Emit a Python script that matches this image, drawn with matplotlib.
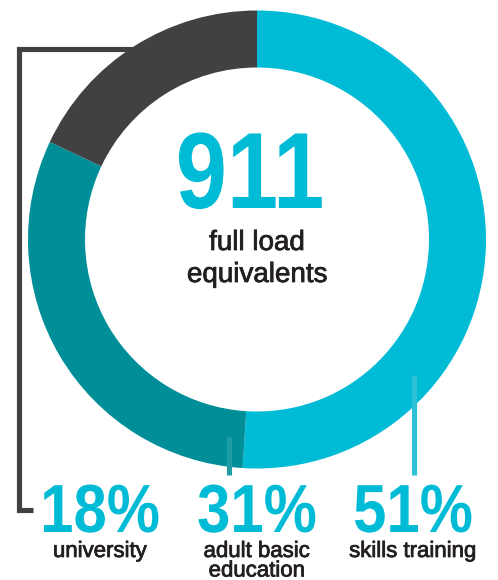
import matplotlib
matplotlib.use("Agg")
import matplotlib.pyplot as plt
from matplotlib import font_manager, patheffects
from matplotlib.transforms import Affine2D

# Enrolment split by program area (share of full load equivalents)
categories = ["skills training", "adult basic\neducation", "university"]
shares = [51, 31, 18]
total_fle = 911
center_caption = "full load\nequivalents"

CYAN = "#00BBD5"
TEAL = "#008F99"
GREY = "#414042"
INK = "#231F20"
slice_colors = [CYAN, TEAL, GREY]


def pick_family(*names):
    for name in names:
        try:
            font_manager.findfont(name, fallback_to_default=False)
            return name
        except Exception:
            continue
    return "DejaVu Sans"


BOLD_FAMILY = pick_family("Liberation Sans", "DejaVu Sans")
TEXT_FAMILY = pick_family("Liberation Sans", "DejaVu Sans")


class Condensed(patheffects.AbstractPathEffect):
    """Squeeze glyphs horizontally about the text's anchor point."""

    def __init__(self, ax, x_data, factor):
        super().__init__()
        self._ax = ax
        self._x = x_data
        self._k = factor

    def draw_path(self, renderer, gc, tpath, affine, rgbFace=None):
        x0 = self._ax.transData.transform((self._x, 0))[0]
        squeeze = Affine2D().translate(-x0, 0).scale(self._k, 1).translate(x0, 0)
        renderer.draw_path(gc, tpath, affine + squeeze, rgbFace)


# a hairline outline gives the regular captions a slightly heavier weight
caption_fx = [patheffects.withStroke(linewidth=0.55, foreground=INK)]

W, H = 498, 580
fig = plt.figure(figsize=(W / 100, H / 100), dpi=100)
ax = fig.add_axes([0, 0, 1, 1])


def Y(py):
    """Convert a top-down pixel row into the axes' y coordinate."""
    return H - py


cx, cy = 257, 239.5
outer_r, ring_w = 229, 57

ax.pie(shares, colors=slice_colors, startangle=90, counterclock=False,
       radius=outer_r, center=(cx, Y(cy)),
       wedgeprops=dict(width=ring_w, linewidth=0))
ax.set_xlim(0, W)
ax.set_ylim(0, H)
ax.set_aspect("equal")
ax.axis("off")

# Label columns below the ring
label_x = {"university": 100, "adult basic\neducation": 257, "skills training": 413}
pct_base = 532
name_base = 557
name_step = 19.5

for cat, val in zip(categories, shares):
    x = label_x[cat]
    ax.text(x, Y(pct_base), f"{val}%", ha="center", va="baseline",
            fontsize=49, fontweight="bold", color=CYAN, family=BOLD_FAMILY,
            path_effects=[Condensed(ax, x, 0.88)])
    for i, part in enumerate(cat.split("\n")):
        ax.text(x, Y(name_base + i * name_step), part, ha="center",
                va="baseline", fontsize=16, color=INK, family=TEXT_FAMILY,
                path_effects=caption_fx)

# Leader lines tying each label to its slice
lw = 3.7
ax.plot([140, 18.5, 18.5, 33], [Y(49), Y(49), Y(510), Y(510)],
        color=GREY, lw=lw, solid_joinstyle="miter", solid_capstyle="butt",
        zorder=0)
ax.plot([228.5, 228.5], [Y(437), Y(475)], color="#1f9ba4", lw=lw,
        solid_capstyle="butt", zorder=3)
ax.plot([414, 414], [Y(375), Y(475)], color="#2ec2d8", lw=lw,
        solid_capstyle="butt", zorder=3)

# Centre figure
ax.text(250, Y(208), f"{total_fle}", ha="center", va="baseline",
        fontsize=78, fontweight="bold", color=CYAN, family=BOLD_FAMILY,
        path_effects=[Condensed(ax, 250, 0.85)])
for i, part in enumerate(center_caption.split("\n")):
    ax.text(257, Y(250 + i * 32), part, ha="center", va="baseline",
            fontsize=20, color=INK, family=TEXT_FAMILY,
            path_effects=caption_fx)

fig.savefig("out.png", dpi=100, facecolor="white")
